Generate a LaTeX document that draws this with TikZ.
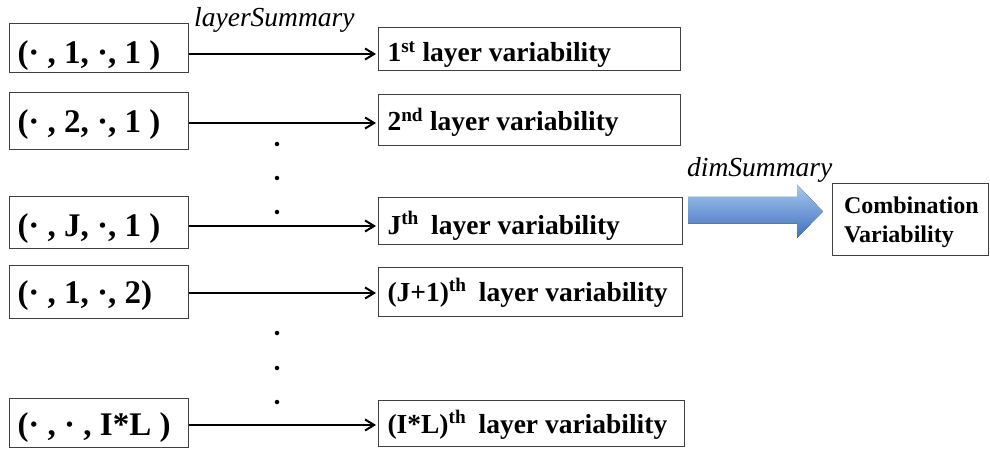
\documentclass[tikz,border=0pt]{standalone}
\usepackage{fontspec}
\setmainfont{Liberation Serif}
\usetikzlibrary{arrows.meta}
\definecolor{batop}{RGB}{168,200,238}
\definecolor{bamid}{RGB}{112,160,225}
\definecolor{babot}{RGB}{62,112,190}
\begin{document}
\begin{tikzpicture}[x=1pt,y=-1pt,
  lbox/.style={draw=black!75,line width=1pt,rectangle,inner sep=0pt,anchor=west,text depth=0pt,font=\fontsize{33}{35}\selectfont\bfseries},
  rbox/.style={draw=black!75,line width=1pt,rectangle,inner sep=0pt,anchor=west,text depth=0pt,font=\fontsize{27.5}{29}\selectfont\bfseries},
  conn/.style={-{Straight Barb[length=9pt,width=11pt,line width=2pt]},line width=2.5pt,shorten >=2pt},
  dotn/.style={circle,fill=black,inner sep=0pt,minimum size=4.5pt},
  lab/.style={font=\fontsize{27.5}{29}\selectfont\itshape}
]
\useasboundingbox (0,0) rectangle (990,449);
\newcommand\lt[1]{\makebox[179pt][l]{\hspace*{8pt}#1}}
\newcommand\rt[2]{\makebox[#1pt][l]{\hspace*{9pt}#2}}
% left boxes
\node[lbox,minimum height=49pt,text height=31pt] (l1) at (9,48.5) {\lt{(· , 1, ·, 1 )}};
\node[lbox,minimum height=57pt,text height=23pt] (l2) at (9,121.5) {\lt{(· , 2, ·, 1 )}};
\node[lbox,minimum height=51pt,text height=27pt] (l3) at (9,222.5) {\lt{(· , J, ·, 1 )}};
\node[lbox,minimum height=53pt,text height=23pt] (l4) at (9,291.5) {\lt{(· , 1, ·, 2)}};
\node[lbox,minimum height=49pt,text height=25pt] (l5) at (9,422.5) {\lt{(· , · , I*L )}};
% right boxes
\node[rbox,minimum height=43pt,text height=25pt] (r1) at (378,49.5) {\rt{302}{1\textsuperscript{st} layer variability}};
\node[rbox,minimum height=51pt,text height=21pt] (r2) at (378,120.5) {\rt{302}{2\textsuperscript{nd} layer variability}};
\node[rbox,minimum height=46pt,text height=26pt] (r3) at (378,221) {\rt{304}{J\textsuperscript{th}\hspace{0.45em}layer variability}};
\node[rbox,minimum height=49pt,text height=19pt] (r4) at (378,291.5) {\rt{304}{(J+1)\textsuperscript{th}\hspace{0.45em}layer variability}};
\node[rbox,minimum height=46pt,text height=20pt] (r5) at (378,423) {\rt{306}{(I*L)\textsuperscript{th}\hspace{0.45em}layer variability}};
% connectors
\foreach \i/\y in {1/54,2/123,3/226,4/293,5/425}{
  \coordinate (s\i) at (l\i.east |- 0,\y);
  \coordinate (e\i) at (r\i.west |- 0,\y);
  \draw[conn] (s\i) -- (e\i);
}
\node[lab,anchor=base west,inner sep=0pt] (ls) at (194,27) {layerSummary};
% dots
\node[dotn] (d1) at (277,144) {};
\node[dotn] (d2) at (277,178) {};
\node[dotn] (d3) at (277,212) {};
\node[dotn] (d4) at (277,333) {};
\node[dotn] (d5) at (277,368) {};
\node[dotn] (d6) at (277,402) {};
% combination
\node[draw=black!75,line width=1pt,rectangle,anchor=north west,minimum width=156pt,minimum height=72pt,align=left,text width=143pt,inner xsep=0pt,inner ysep=0pt,font=\fontsize{24}{28.5}\selectfont\bfseries] (cv) at (832,183) {\rule{0pt}{22pt}\hspace*{5pt}Combination\\\hspace*{5pt}Variability};
% block arrow
\coordinate (bas) at (688,210.5);
\coordinate (bat) at (823,211.5);
\fill[top color=batop,middle color=bamid,bottom color=babot,shading angle=0]
  (bas) ++(0,-13.5) -- ++(109,0) -- ++(0,-12.5) -- (bat) -- ++(-26,26.5) -- ++(0,-14.5) -- ++(-109,0) -- cycle;
\node[lab,anchor=base west,inner sep=0pt] (ds) at (687,177) {dimSummary};
\end{tikzpicture}
\end{document}
